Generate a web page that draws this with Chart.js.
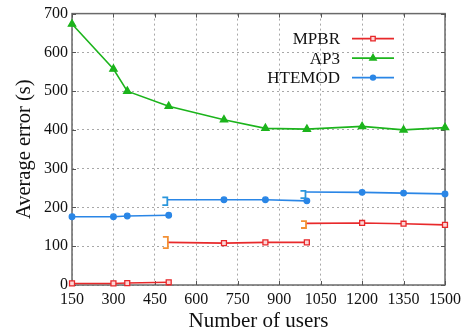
<!DOCTYPE html>
<html><head><meta charset="utf-8">
<script src="https://cdn.jsdelivr.net/npm/chart.js@4"></script>
<style>html,body{margin:0;padding:0;background:#fff}</style>
</head><body>
<canvas id="c" width="468" height="336" style="width:468px;height:336px;display:block"></canvas>
<script>
// ---- data ----
const seriesNames = ['MPBR', 'AP3', 'HTEMOD'];
const xTickValues = [150, 300, 450, 600, 750, 900, 1050, 1200, 1350, 1500];
const yTickValues = [0, 100, 200, 300, 400, 500, 600, 700];

const mpbrX1 = [150, 300, 350, 500];
const mpbrY1 = [4, 4, 5, 7];
const mpbrX2 = [497, 700, 850, 1000];
const mpbrY2 = [110, 108, 110, 110];
const mpbrX3 = [997, 1200, 1350, 1500];
const mpbrY3 = [159, 160, 158, 155];

const ap3X = [150, 300, 350, 500, 700, 850, 1000, 1200, 1350, 1500];
const ap3Y = [673, 557, 500, 461, 426, 404, 402, 409, 400, 406];

const htemodX1 = [150, 300, 350, 500];
const htemodY1 = [176, 176, 178, 180];
const htemodX2 = [497, 700, 850, 1000];
const htemodY2 = [220, 220, 220, 217];
const htemodX3 = [997, 1200, 1350, 1500];
const htemodY3 = [240, 239, 237, 235];

// brackets: [x, low, high] in data units
const bracketX   = [495, 497, 995, 997];
const bracketLow = [206, 95, 224, 147];
const bracketHigh= [226, 124, 243, 165];
const bracketSeries = ['HTEMOD', 'MPBR', 'HTEMOD', 'MPBR'];

// ---- build ----
function segments(list) {
  const out = [];
  list.forEach(([xs, ys], si) => {
    if (si > 0) out.push({x: xs[0], y: null});
    xs.forEach((x, i) => out.push({x: x, y: ys[i], start: si > 0 && i === 0}));
  });
  return out;
}
const colors = {MPBR: '#e8292b', AP3: '#1cb41c', HTEMOD: '#2a86e6'};
const bracketColors = {MPBR: '#f39034', HTEMOD: '#2a96dc'};
const styles = {
  MPBR: {pointStyle: 'rect', radius: 3.5, bg: '#fbd6d6'},
  AP3: {pointStyle: 'triangle', radius: 4.2, bg: colors.AP3},
  HTEMOD: {pointStyle: 'circle', radius: 2.8, bg: colors.HTEMOD}
};
const seriesData = {
  MPBR: segments([[mpbrX1, mpbrY1], [mpbrX2, mpbrY2], [mpbrX3, mpbrY3]]),
  AP3: segments([[ap3X, ap3Y]]),
  HTEMOD: segments([[htemodX1, htemodY1], [htemodX2, htemodY2], [htemodX3, htemodY3]])
};
const datasets = seriesNames.map(n => ({
  label: n,
  data: seriesData[n],
  borderColor: colors[n],
  backgroundColor: styles[n].bg,
  borderWidth: 1.6,
  pointStyle: styles[n].pointStyle,
  pointRadius: c => (c.raw && c.raw.start) ? 0 : styles[n].radius,
  pointBorderColor: colors[n],
  pointBackgroundColor: styles[n].bg,
  pointBorderWidth: 1.3,
  spanGaps: false,
  tension: 0,
  clip: 8
}));

const serif = "'Liberation Serif','Times New Roman',serif";

const decor = {
  id: 'decor',
  beforeDatasetsDraw(chart) {
    const {ctx, chartArea: a, scales: {x, y}} = chart;
    ctx.save();
    ctx.strokeStyle = '#6a6a6a';
    ctx.lineWidth = 1.5;
    ctx.strokeRect(a.left, a.top, a.right - a.left, a.bottom - a.top);
    ctx.lineWidth = 1;
    ctx.strokeStyle = '#555';
    xTickValues.forEach(v => {
      const px = Math.round(x.getPixelForValue(v)) + 0.5;
      ctx.beginPath(); ctx.moveTo(px, a.bottom); ctx.lineTo(px, a.bottom - 4);
      ctx.moveTo(px, a.top); ctx.lineTo(px, a.top + 4); ctx.stroke();
    });
    yTickValues.forEach(v => {
      const py = Math.round(y.getPixelForValue(v)) + 0.5;
      ctx.beginPath(); ctx.moveTo(a.left, py); ctx.lineTo(a.left + 4, py);
      ctx.moveTo(a.right, py); ctx.lineTo(a.right - 4, py); ctx.stroke();
    });
    ctx.restore();
  },
  afterDatasetsDraw(chart) {
    const {ctx, chartArea: a, scales: {x, y}} = chart;
    ctx.save();
    ctx.lineWidth = 1.8;
    bracketX.forEach((bx, i) => {
      const px = x.getPixelForValue(bx);
      const lo = y.getPixelForValue(bracketLow[i]);
      const hi = y.getPixelForValue(bracketHigh[i]);
      ctx.strokeStyle = bracketColors[bracketSeries[i]];
      ctx.beginPath();
      ctx.moveTo(px - 5, hi); ctx.lineTo(px, hi); ctx.lineTo(px, lo); ctx.lineTo(px - 5, lo);
      ctx.stroke();
    });
    // legend
    ctx.font = '17px ' + serif;
    ctx.textAlign = 'right';
    ctx.textBaseline = 'middle';
    seriesNames.forEach((n, i) => {
      const ly = a.top + 25 + i * 19.5;
      const tx = a.left + 268;
      ctx.fillStyle = '#111';
      ctx.fillText(n, tx, ly + 1);
      ctx.strokeStyle = colors[n];
      ctx.lineWidth = 1.6;
      ctx.beginPath(); ctx.moveTo(tx + 12, ly); ctx.lineTo(tx + 54, ly); ctx.stroke();
      ctx.fillStyle = styles[n].bg; ctx.strokeStyle = colors[n];
      ctx.lineWidth = 1.3;
      Chart.helpers.drawPoint(ctx, {
        pointStyle: styles[n].pointStyle, radius: styles[n].radius * 0.9, rotation: 0, borderWidth: 1.3
      }, tx + 33, ly);
    });
    ctx.restore();
  }
};

new Chart(document.getElementById('c'), {
  type: 'line',
  data: {datasets},
  plugins: [decor],
  options: {
    responsive: false,
    devicePixelRatio: 1,
    animation: false,
    layout: {padding: {top: 10, right: 23, left: 0, bottom: 0}},
    plugins: {legend: {display: false}, tooltip: {enabled: false}},
    scales: {
      x: {
        type: 'linear', min: 150, max: 1500,
        afterBuildTicks: s => { s.ticks = xTickValues.map(v => ({value: v})); },
        afterFit: s => { s.height = 51; },
        grid: {color: '#a8a8a8', lineWidth: 1, tickLength: 0, drawTicks: false},
        border: {display: false, dash: [2, 3]},
        ticks: {color: '#111', font: {family: serif, size: 16}, padding: 5, maxRotation: 0, autoSkip: false,
                callback: v => String(v)},
        title: {display: true, text: 'Number of users', color: '#111', font: {family: serif, size: 21}, padding: {top: 0, bottom: 2}}
      },
      y: {
        type: 'linear', min: 0, max: 700,
        afterBuildTicks: s => { s.ticks = yTickValues.map(v => ({value: v})); },
        afterFit: s => { s.width = 72; },
        grid: {color: '#a8a8a8', lineWidth: 1, tickLength: 0, drawTicks: false},
        border: {display: false, dash: [2, 3]},
        ticks: {color: '#111', font: {family: serif, size: 16}, padding: 4, callback: v => String(v)},
        title: {display: true, text: 'Average error (s)', color: '#111', font: {family: serif, size: 20.5}, padding: {top: 12, bottom: 0}}
      }
    }
  }
});
</script>
</body></html>
